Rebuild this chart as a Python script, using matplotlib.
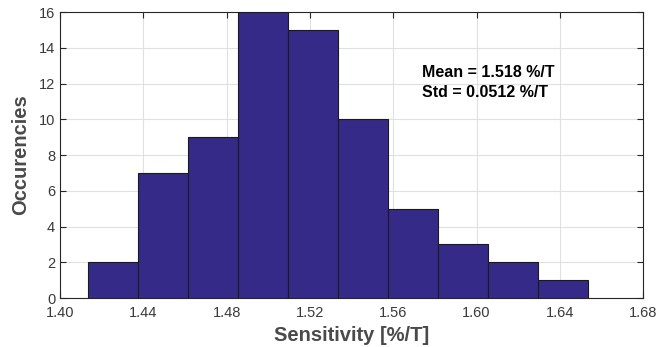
import numpy as np
import matplotlib
matplotlib.use("Agg")
import matplotlib.pyplot as plt

plt.rcParams['font.family'] = ['Liberation Sans', 'DejaVu Sans']

# histogram bins
bin_edges = [1.4133, 1.4373, 1.4613, 1.4853, 1.5093, 1.5333,
             1.5573, 1.5813, 1.6053, 1.6293, 1.6533]
counts = [2, 7, 9, 16, 15, 10, 5, 3, 2, 1]
xticks = [1.40, 1.44, 1.48, 1.52, 1.56, 1.60, 1.64, 1.68]
yticks = [0, 2, 4, 6, 8, 10, 12, 14, 16]
stats_lines = ["Mean = 1.518 %/T", "Std = 0.0512 %/T"]

fig = plt.figure(figsize=(6.56, 3.47), dpi=100)
ax = fig.add_axes([0.0915, 0.141, 0.889, 0.824])

edges = np.array(bin_edges)
ax.bar(edges[:-1], counts, width=np.diff(edges), align='edge',
       color='#352a87', edgecolor='#1a1a1a', linewidth=0.8, zorder=3)

ax.set_xlim(1.40, 1.68)
ax.set_ylim(0, 16)
ax.set_xticks(xticks)
ax.set_xticklabels(["%.2f" % t for t in xticks])
ax.set_yticks(yticks)
ax.grid(True, color='#e0e0e0', linewidth=0.8, zorder=0)
ax.tick_params(direction='in', top=True, right=True, length=4,
               labelsize=10.5, labelcolor='#3a3a3a', color='#262626', width=0.8)
ax.tick_params(axis='x', pad=6)
for s in ax.spines.values():
    s.set_color('#262626')
    s.set_linewidth(0.8)

ax.set_xlabel("Sensitivity [%/T]", fontsize=14.5, fontweight='bold', color='#4a4a4a', labelpad=4)
ax.set_ylabel("Occurencies", fontsize=14.5, fontweight='bold', color='#4a4a4a', labelpad=6)

ax.text(1.5737, 12.38, stats_lines[0], fontsize=11.5, fontweight='bold',
        color='black', va='baseline', ha='left', zorder=4)
ax.text(1.5737, 11.26, stats_lines[1], fontsize=11.5, fontweight='bold',
        color='black', va='baseline', ha='left', zorder=4)

fig.savefig("out.png", dpi=100)
